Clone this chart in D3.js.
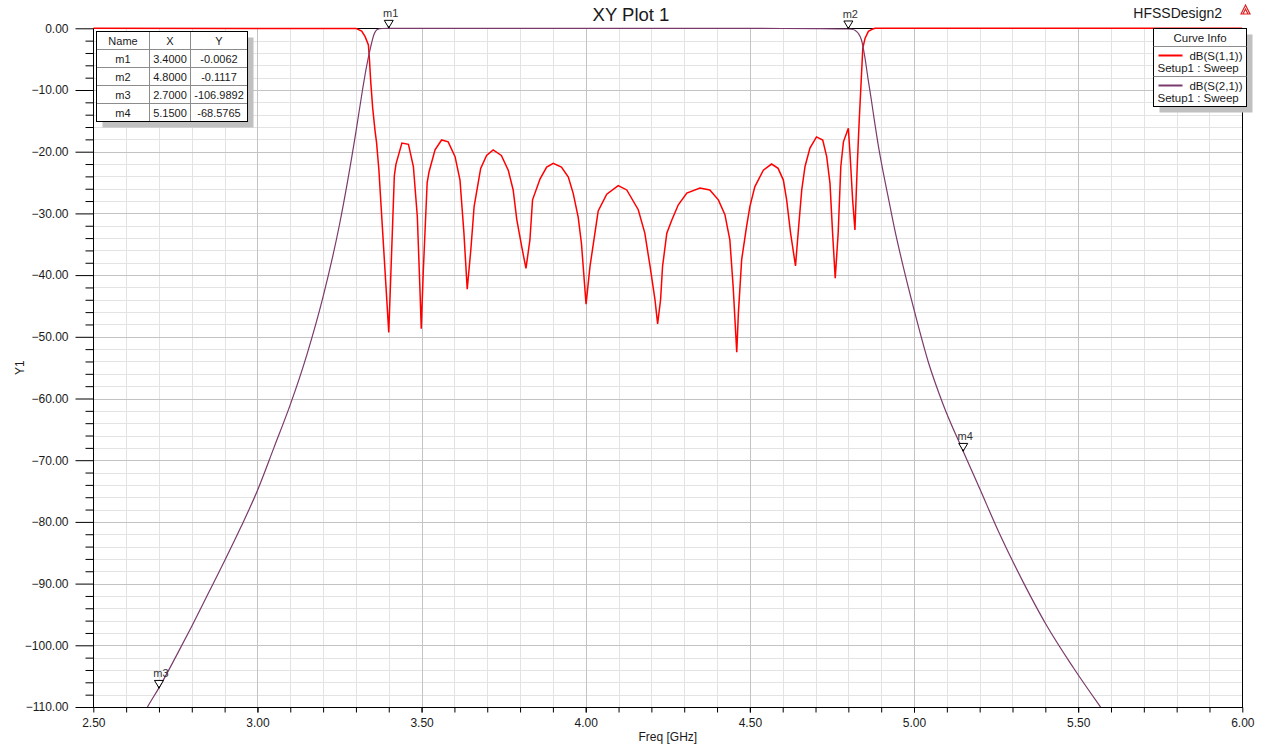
<!DOCTYPE html>
<html lang="en">
<head>
<meta charset="utf-8">
<title>XY Plot 1</title>
<style>
  body { margin: 0; background: #fff; }
  svg { display: block; font-family: "Liberation Sans", Arial, sans-serif; }
</style>
</head>
<body>
<script src="https://d3js.org/d3.v7.min.js"></script>
<script>
// ---- data ----
const xTicks = [2.5, 3.0, 3.5, 4.0, 4.5, 5.0, 5.5, 6.0];
const yTicks = [0, -10, -20, -30, -40, -50, -60, -70, -80, -90, -100, -110];

// dB(S(1,1))
const s11Freq = [2.50, 3.30, 3.3175, 3.328, 3.338, 3.341, 3.345, 3.351, 3.358, 3.363, 3.37, 3.378, 3.386, 3.394, 3.40,
  3.409, 3.417, 3.422, 3.44, 3.46, 3.475, 3.487, 3.495, 3.499, 3.505, 3.517, 3.523, 3.541, 3.561, 3.581,
  3.602, 3.617, 3.629, 3.639, 3.65, 3.66, 3.68, 3.698, 3.718, 3.743, 3.764, 3.779, 3.79, 3.805, 3.818,
  3.83, 3.838, 3.861, 3.881, 3.901, 3.926, 3.947, 3.962, 3.977, 3.987, 4.001, 4.013, 4.028, 4.038, 4.064,
  4.099, 4.125, 4.16, 4.18, 4.196, 4.211, 4.219, 4.228, 4.234, 4.247, 4.262, 4.282, 4.308, 4.348, 4.378,
  4.404, 4.424, 4.439, 4.449, 4.46, 4.465, 4.475, 4.49, 4.50, 4.515, 4.541, 4.566, 4.586, 4.602, 4.612,
  4.624, 4.639, 4.647, 4.658, 4.668, 4.683, 4.703, 4.722, 4.734, 4.744, 4.752, 4.76, 4.769, 4.777, 4.785,
  4.80, 4.805, 4.813, 4.82, 4.827, 4.833, 4.839, 4.844, 4.851, 4.861, 4.875, 4.881, 6.00];
const s11dB = [0, -0.02, -0.45, -1.35, -2.7, -4.9, -8.6, -12.9, -16.5, -18.6, -23, -30, -37, -44, -49.3,
  -35.9, -23.9, -22, -18.6, -18.8, -22.4, -30.5, -42.3, -48.7, -39.6, -25, -23.2, -19.7, -18.1, -18.4,
  -20.8, -24.6, -33.2, -42.3, -35.9, -28.9, -22.7, -20.6, -19.7, -20.6, -23, -26.2, -31, -35.4, -38.9,
  -34.3, -27.8, -24.4, -22.5, -21.9, -22.5, -24.1, -26.8, -30.6, -34.9, -44.7, -38.6, -33.2, -29.6, -26.9,
  -25.5, -26.2, -29.4, -33.2, -38.6, -44, -47.9, -44, -38.6, -33.2, -31.1, -28.6, -26.7, -25.9, -26.2,
  -27.8, -30.2, -34.3, -41.8, -52.5, -46.2, -37.5, -32.1, -28.9, -25.7, -23, -22, -22.7, -24.6, -27.8,
  -33.2, -38.5, -33.2, -26.2, -22.4, -19.4, -17.6, -18.1, -20.8, -25.1, -33.2, -40.5, -33.2, -22.4, -18.4,
  -16.2, -20.3, -27.8, -32.7, -22.4, -15, -8.6, -3.2, -1.6, -0.5, -0.1, 0, 0];

// dB(S(2,1))
const s21Freq = [2.64, 2.665, 2.70, 2.75, 2.80, 2.85, 2.90, 2.95, 3.00, 3.05, 3.10, 3.15, 3.20, 3.25, 3.30,
  3.32, 3.333, 3.345, 3.355, 3.365, 3.38, 3.40, 3.60, 3.80,
  4.00, 4.20, 4.40, 4.60, 4.70, 4.80, 4.81, 4.82, 4.83, 4.84, 4.85, 4.86, 4.87, 4.88, 4.89, 4.90,
  4.92, 4.94, 4.967, 5.00, 5.043, 5.089, 5.15, 5.20, 5.262, 5.333, 5.404, 5.485, 5.568, 5.60];
const s21dB = [-112.5, -110, -106.9, -102, -96.9, -91.6, -86.3, -80.8, -74.9, -68.0, -61.0, -53.0, -43.5, -31.8, -16.8,
  -10, -6, -3, -1, -0.2, -0.03, -0.0062, -0.01, -0.02,
  -0.01, -0.02, -0.02, -0.03, -0.05, -0.1117, -0.15, -0.3, -0.8, -1.9, -4.6, -8.2, -11.6, -15.2, -18.6, -21.6,
  -27, -32.3, -38.6, -45.6, -54, -61, -68.5765, -74.6, -82.1, -89.8, -96.8, -103.6, -110, -112.4];

const markerNames = ["m1", "m2", "m3", "m4"];
const markerX = [3.4, 4.8, 2.7, 5.15];
const markerY = [-0.0062, -0.1117, -106.9892, -68.5765];

const legendTraces = ["dB(S(1,1))", "dB(S(2,1))"];
const legendSetup = "Setup1 : Sweep";

// ---- layout ----
const W = 1265, H = 749;
const plotL = 93.3, plotR = 1242.3, plotT = 28.3, plotB = 707;
const red = "#ff0000";
const purple = "#7a3b6c";

const svg = d3.select("body").append("svg")
  .attr("width", W)
  .attr("height", H);

const x = d3.scaleLinear().domain([2.5, 6.0]).range([plotL, plotR]);
const y = d3.scaleLinear().domain([-110, 0]).range([plotB, plotT]);

const minorX = d3.range(26, 60).map(d => d / 10);
const minorY = d3.range(-108, 0, 2);

// grid
const grid = svg.append("g");
grid.selectAll(".vmin")
  .data(minorX)
  .enter().append("line")
  .attr("x1", d => Math.round(x(d)) + 0.5).attr("x2", d => Math.round(x(d)) + 0.5)
  .attr("y1", plotT).attr("y2", plotB)
  .attr("stroke", "#e3e3e3");
grid.selectAll(".hmin")
  .data(minorY)
  .enter().append("line")
  .attr("y1", d => Math.round(y(d)) + 0.5).attr("y2", d => Math.round(y(d)) + 0.5)
  .attr("x1", plotL).attr("x2", plotR)
  .attr("stroke", "#e3e3e3");
grid.selectAll(".vmaj")
  .data(xTicks.slice(1, -1))
  .enter().append("line")
  .attr("x1", d => Math.round(x(d)) + 0.5).attr("x2", d => Math.round(x(d)) + 0.5)
  .attr("y1", plotT).attr("y2", plotB)
  .attr("stroke", "#c3c3c3");
grid.selectAll(".hmaj")
  .data(yTicks.slice(1, -1))
  .enter().append("line")
  .attr("y1", d => Math.round(y(d)) + 0.5).attr("y2", d => Math.round(y(d)) + 0.5)
  .attr("x1", plotL).attr("x2", plotR)
  .attr("stroke", "#c3c3c3");

// frame
svg.append("rect")
  .attr("x", Math.round(plotL) + 0.5).attr("y", Math.round(plotT) + 0.5)
  .attr("width", Math.round(plotR) - Math.round(plotL))
  .attr("height", Math.round(plotB) - Math.round(plotT))
  .attr("fill", "none").attr("stroke", "#000");

// axes
const yAxis = d3.axisLeft(y).tickValues(yTicks).tickFormat(d3.format(".2f")).tickSize(18).tickPadding(7);
const yMinor = d3.axisLeft(y).tickValues(minorY.filter(d => d % 10 !== 0)).tickFormat("").tickSize(8);
const xAxis = d3.axisBottom(x).tickValues(xTicks).tickFormat(d3.format(".2f")).tickSize(5).tickPadding(6);
const xMinor = d3.axisBottom(x).tickValues(minorX).tickFormat("").tickSize(5);

svg.append("g").attr("transform", `translate(${Math.round(plotL) + 0.5},0)`).call(yAxis);
svg.append("g").attr("transform", `translate(${Math.round(plotL) + 0.5},0)`).call(yMinor);
svg.append("g").attr("transform", `translate(0,${Math.round(plotB) + 0.5})`).call(xAxis);
svg.append("g").attr("transform", `translate(0,${Math.round(plotB) + 0.5})`).call(xMinor);

svg.selectAll(".domain").remove();
svg.selectAll(".tick line").attr("stroke", "#000");
svg.selectAll(".tick text")
  .attr("fill", "#1a1a1a")
  .attr("font-size", 12)
  .attr("font-family", "Liberation Sans, Arial, sans-serif");

// axis titles
svg.append("text")
  .attr("x", (plotL + plotR) / 2).attr("y", 741)
  .attr("text-anchor", "middle").attr("font-size", 12).attr("fill", "#1a1a1a")
  .text("Freq [GHz]");
svg.append("text")
  .attr("transform", `translate(24,${(plotT + plotB) / 2}) rotate(-90)`)
  .attr("text-anchor", "middle").attr("font-size", 12).attr("fill", "#1a1a1a")
  .text("Y1");

// title
svg.append("text")
  .attr("x", 631).attr("y", 21)
  .attr("text-anchor", "middle").attr("font-size", 18.5).attr("fill", "#1a1a1a")
  .text("XY Plot 1");
svg.append("text")
  .attr("x", 1222).attr("y", 18)
  .attr("text-anchor", "end").attr("font-size", 14).attr("fill", "#1a1a1a")
  .text("HFSSDesign2");
// little logo
svg.append("path")
  .attr("d", "M1241,14 L1245.5,5 L1250,14 Z M1243,14 L1245.5,9 L1248,14")
  .attr("fill", "none").attr("stroke", "#d22").attr("stroke-width", 1.2);

// curves
svg.append("clipPath").attr("id", "clip")
  .append("rect").attr("x", plotL).attr("y", plotT - 2)
  .attr("width", plotR - plotL).attr("height", plotB - plotT + 2);

const lineLin = d3.line().x(d => x(d[0])).y(d => y(d[1]));
const lineSmooth = d3.line().x(d => x(d[0])).y(d => y(d[1])).curve(d3.curveMonotoneX);

const s11 = s11Freq.map((f, i) => [f, s11dB[i]]);
const s21 = s21Freq.map((f, i) => [f, s21dB[i]]);

const plot = svg.append("g").attr("clip-path", "url(#clip)");
plot.append("path").datum(s11)
  .attr("d", lineLin)
  .attr("fill", "none").attr("stroke", red).attr("stroke-width", 1.5);
plot.append("path").datum(s21)
  .attr("d", lineSmooth)
  .attr("fill", "none").attr("stroke", purple).attr("stroke-width", 1.2);

// markers
const mk = svg.append("g");
markerNames.forEach((name, i) => {
  const px = x(markerX[i]), py = Math.max(y(markerY[i]), plotT);
  mk.append("path")
    .attr("d", `M${px - 4.5},${py - 8} L${px + 4.5},${py - 8} L${px},${py - 0.5} Z`)
    .attr("fill", "#fff").attr("stroke", "#000").attr("stroke-width", 1);
  mk.append("circle").attr("cx", px).attr("cy", py - 1).attr("r", 1).attr("fill", "#000");
  mk.append("text")
    .attr("x", px + 2).attr("y", py - 11)
    .attr("text-anchor", "middle").attr("font-size", 11).attr("fill", "#333")
    .text(name);
});

// marker table
const tx = 96.5, ty = 31.5;
const colW = [53, 41, 57];
const rowH = 18;
const tW = d3.sum(colW), tH = rowH * (markerNames.length + 1);
svg.append("rect").attr("x", tx + 6).attr("y", ty + 6).attr("width", tW).attr("height", tH).attr("fill", "#c0c0c0");
svg.append("rect").attr("x", tx).attr("y", ty).attr("width", tW).attr("height", tH).attr("fill", "#fff");
const table = svg.append("g").attr("font-size", 11).attr("fill", "#1a1a1a");
const colX = [tx, tx + colW[0], tx + colW[0] + colW[1], tx + tW];
const rows = [["Name", "X", "Y"]].concat(markerNames.map((n, i) => [n, markerX[i].toFixed(4), markerY[i].toFixed(4)]));
rows.forEach((r, ri) => {
  r.forEach((c, ci) => {
    table.append("text")
      .attr("x", (colX[ci] + colX[ci + 1]) / 2)
      .attr("y", ty + ri * rowH + rowH / 2 + 4)
      .attr("text-anchor", "middle")
      .text(c);
  });
  if (ri > 0) {
    svg.append("line").attr("x1", tx).attr("x2", tx + tW)
      .attr("y1", ty + ri * rowH).attr("y2", ty + ri * rowH).attr("stroke", "#8c8c8c");
  }
});
[1, 2].forEach(ci => {
  svg.append("line").attr("x1", colX[ci]).attr("x2", colX[ci])
    .attr("y1", ty).attr("y2", ty + tH).attr("stroke", "#8c8c8c");
});
svg.append("rect").attr("x", tx).attr("y", ty).attr("width", tW).attr("height", tH)
  .attr("fill", "none").attr("stroke", "#000");

// legend (Curve Info)
const lx = 1153.5, ly = 28.5, lW = 93, lH = 78;
svg.append("rect").attr("x", lx + 6).attr("y", ly + 6).attr("width", lW).attr("height", lH).attr("fill", "#c0c0c0");
svg.append("rect").attr("x", lx).attr("y", ly).attr("width", lW).attr("height", lH)
  .attr("fill", "#fff").attr("stroke", "#000");
svg.append("text").attr("x", lx + lW / 2).attr("y", ly + 13.5)
  .attr("text-anchor", "middle").attr("font-size", 11.5).attr("fill", "#1a1a1a").text("Curve Info");
svg.append("line").attr("x1", lx).attr("x2", lx + lW).attr("y1", ly + 18).attr("y2", ly + 18).attr("stroke", "#8c8c8c");
svg.append("line").attr("x1", lx).attr("x2", lx + lW).attr("y1", ly + 48).attr("y2", ly + 48).attr("stroke", "#8c8c8c");
const legendColors = [red, purple];
legendTraces.forEach((t, i) => {
  const oy = ly + 18 + i * 30;
  svg.append("line").attr("x1", lx + 5).attr("x2", lx + 29)
    .attr("y1", oy + 9).attr("y2", oy + 9)
    .attr("stroke", legendColors[i]).attr("stroke-width", 2);
  svg.append("text").attr("x", lx + lW - 4).attr("y", oy + 13.5)
    .attr("text-anchor", "end").attr("font-size", 11.5).attr("fill", "#1a1a1a").text(t);
  svg.append("text").attr("x", lx + 4).attr("y", oy + 25)
    .attr("font-size", 11.5).attr("fill", "#1a1a1a").text(legendSetup);
});
</script>
</body>
</html>
